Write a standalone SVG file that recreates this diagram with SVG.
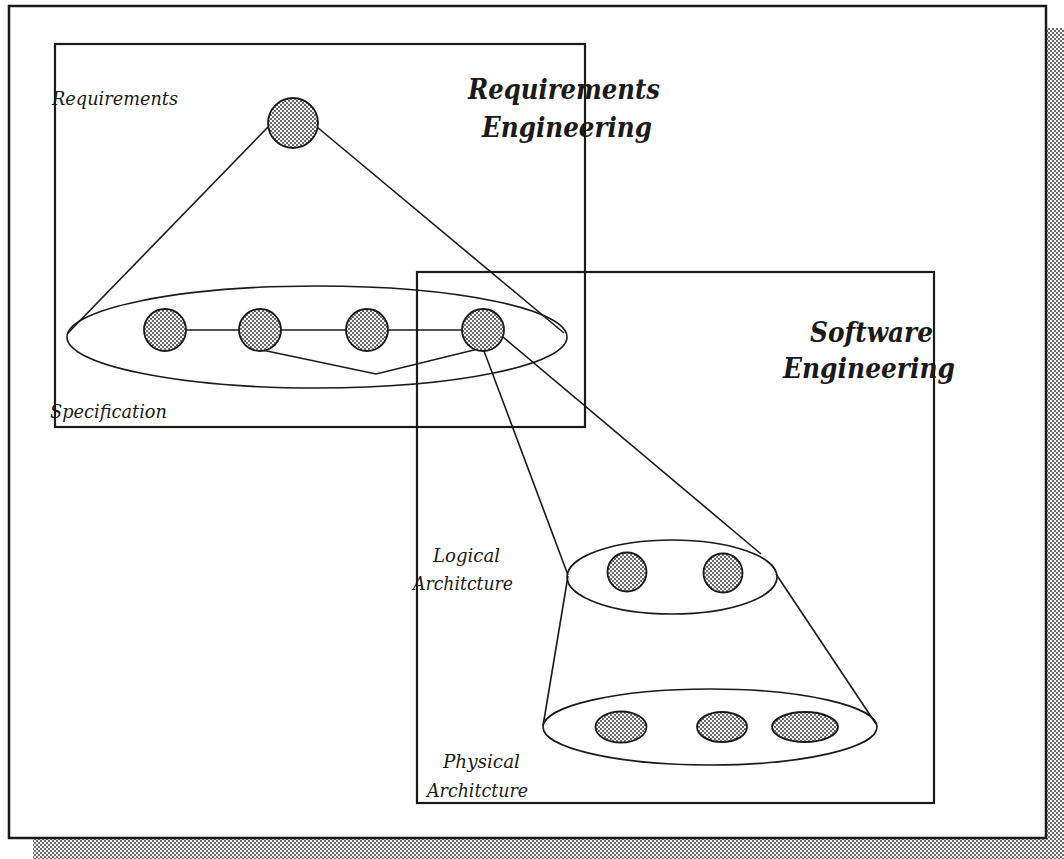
<svg xmlns="http://www.w3.org/2000/svg" width="1064" height="859" viewBox="0 0 1064 859">
  <defs>
    <!-- dithered grey used for shadows and node fills -->
    <pattern id="dither" width="4" height="4" patternUnits="userSpaceOnUse">
      <rect width="4" height="4" fill="#f6f6f6"/>
      <rect x="0" y="0" width="2" height="2" fill="#6a6a6a"/>
      <rect x="2" y="2" width="2" height="2" fill="#6a6a6a"/>
    </pattern>
    <style>
      .frame { fill: none; stroke: #1a1a1a; stroke-width: 2.5; }
      .box { fill: none; stroke: #1a1a1a; stroke-width: 2.2; }
      .line { fill: none; stroke: #1a1a1a; stroke-width: 1.6; }
      .ring { fill: none; stroke: #1a1a1a; stroke-width: 1.6; }
      .node { fill: url(#dither); stroke: #1a1a1a; stroke-width: 1.8; }
      .label { font-family: "DejaVu Serif", "Liberation Serif", serif; font-style: italic; font-size: 19px; fill: #1a1a1a; }
      .title { font-family: "DejaVu Serif", "Liberation Serif", serif; font-style: italic; font-weight: bold; font-size: 27px; fill: #1a1a1a; }
    </style>
  </defs>

  <rect width="1064" height="859" fill="#fff"/>

  <!-- page frame with drop shadow -->
  <g id="page">
    <rect x="1047" y="28" width="17" height="812" fill="url(#dither)"/>
    <rect x="33" y="839" width="1031" height="20" fill="url(#dither)"/>
    <rect class="frame" x="9" y="6" width="1037" height="832"/>
  </g>

  <!-- domain boxes -->
  <g id="requirements-engineering">
    <rect class="box" x="55" y="44" width="530" height="383"/>
    <text class="title" x="468" y="99" textLength="192" lengthAdjust="spacingAndGlyphs">Requirements</text>
    <text class="title" x="482" y="137" textLength="170" lengthAdjust="spacingAndGlyphs">Engineering</text>
  </g>
  <g id="software-engineering">
    <rect class="box" x="417" y="272" width="517" height="531"/>
    <text class="title" x="810" y="342" textLength="123" lengthAdjust="spacingAndGlyphs">Software</text>
    <text class="title" x="783" y="378" textLength="172" lengthAdjust="spacingAndGlyphs">Engineering</text>
  </g>

  <!-- connectors -->
  <g id="connectors">
    <!-- cone from requirements to specification -->
    <line class="line" x1="268" y1="127" x2="68" y2="333"/>
    <line class="line" x1="317" y1="127" x2="564" y2="333"/>
    <!-- links within the specification -->
    <line class="line" x1="186" y1="330" x2="461" y2="330"/>
    <polyline class="line" points="262,350 376,374 478,349"/>
    <!-- cone from specification to logical architecture -->
    <line class="line" x1="484" y1="351" x2="568" y2="575"/>
    <line class="line" x1="503" y1="337" x2="761" y2="554"/>
    <!-- cone from logical to physical architecture -->
    <line class="line" x1="568" y1="576" x2="543" y2="726"/>
    <line class="line" x1="776" y1="574" x2="876" y2="724"/>
  </g>

  <g id="requirements">
    <circle class="node" cx="293" cy="123" r="25"/>
    <text class="label" x="52" y="105" textLength="126" lengthAdjust="spacingAndGlyphs">Requirements</text>
  </g>

  <g id="specification">
    <ellipse class="ring" cx="317" cy="337" rx="250" ry="51"/>
    <circle class="node" cx="165" cy="330" r="21"/>
    <circle class="node" cx="260" cy="330" r="21"/>
    <circle class="node" cx="367" cy="330" r="21"/>
    <circle class="node" cx="483" cy="330" r="21"/>
    <text class="label" x="50" y="418" textLength="117" lengthAdjust="spacingAndGlyphs">Specification</text>
  </g>

  <g id="logical-architecture">
    <ellipse class="ring" cx="672" cy="577" rx="105" ry="37"/>
    <circle class="node" cx="627" cy="572" r="19.5"/>
    <circle class="node" cx="723" cy="573" r="19.5"/>
    <text class="label" x="433" y="562" textLength="67" lengthAdjust="spacingAndGlyphs">Logical</text>
    <text class="label" x="413" y="590" textLength="100" lengthAdjust="spacingAndGlyphs">Architcture</text>
  </g>

  <g id="physical-architecture">
    <ellipse class="ring" cx="710" cy="727" rx="167" ry="38"/>
    <ellipse class="node" cx="621" cy="727" rx="25.5" ry="15.5"/>
    <ellipse class="node" cx="722" cy="727" rx="25" ry="15"/>
    <ellipse class="node" cx="805" cy="727" rx="33" ry="15"/>
    <text class="label" x="443" y="768" textLength="77" lengthAdjust="spacingAndGlyphs">Physical</text>
    <text class="label" x="427" y="797" textLength="101" lengthAdjust="spacingAndGlyphs">Architcture</text>
  </g>
</svg>
